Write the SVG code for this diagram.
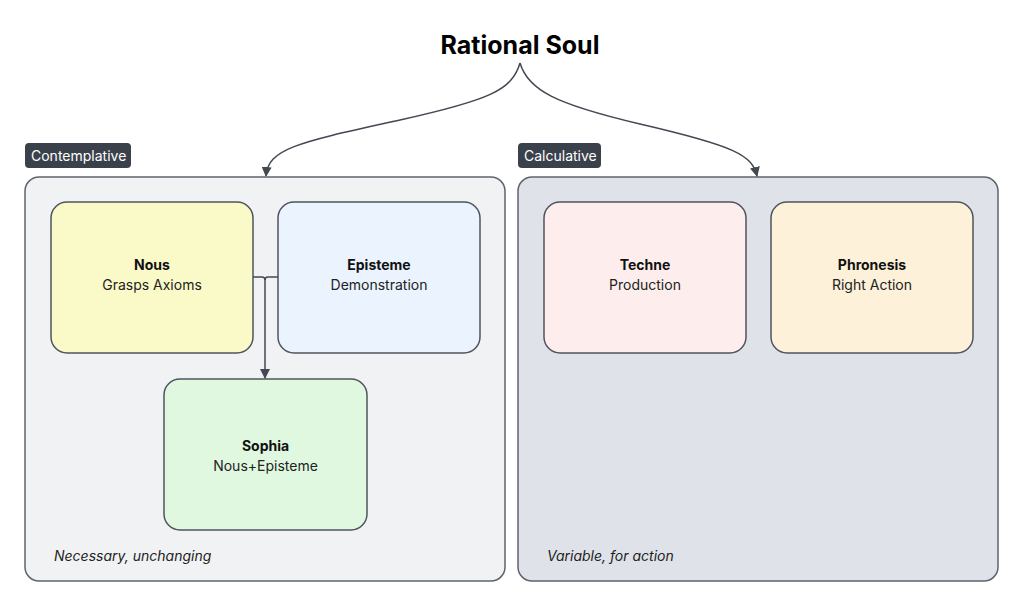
<svg xmlns="http://www.w3.org/2000/svg" width="1024" height="607" viewBox="0 0 1024 607">
<style>
  text { font-family: Inter, "Liberation Sans", sans-serif; }
  .title { font-size: 25px; font-weight: 700; fill: #000; }
  .container { stroke: #5f646c; stroke-width: 1.5; }
  .tag { fill: #3b414b; }
  .tagtext { font-size: 14px; fill: #ffffff; }
  .node { stroke: #4f545c; stroke-width: 1.5; }
  .name { font-size: 14px; font-weight: 700; fill: #111; text-anchor: middle; }
  .sub { font-size: 14px; fill: #222; text-anchor: middle; }
  .note { font-size: 14px; font-style: italic; fill: #222; }
  .edge { fill: none; stroke: #434852; stroke-width: 1.5; }
</style>
<defs>
  <marker id="arrow" viewBox="0 0 10 10" refX="9" refY="5" markerWidth="10" markerHeight="10" markerUnits="userSpaceOnUse" orient="auto">
    <path d="M0,0 L10,5 L0,10 Z" fill="#434852"/>
  </marker>
</defs>
<rect width="1024" height="607" fill="#ffffff"/>

<g id="title">
  <text class="title" x="520" y="54" text-anchor="middle">Rational Soul</text>
</g>

<g id="contemplative">
  <rect class="container" x="25" y="177" width="480" height="404" rx="14" fill="#f1f2f4"/>
  <rect class="tag" x="25" y="143" width="106" height="25" rx="4"/>
  <text class="tagtext" x="31" y="161">Contemplative</text>
  <text class="note" x="54" y="561">Necessary, unchanging</text>
</g>

<g id="calculative">
  <rect class="container" x="518" y="177" width="480" height="404" rx="14" fill="#dfe2e8"/>
  <rect class="tag" x="518" y="143" width="83" height="25" rx="4"/>
  <text class="tagtext" x="524" y="161">Calculative</text>
  <text class="note" x="547" y="561">Variable, for action</text>
</g>

<g id="nous">
  <rect class="node" x="51" y="202" width="202" height="151" rx="16" fill="#fafac9"/>
  <text class="name" x="152" y="270">Nous</text>
  <text class="sub" x="152" y="290">Grasps Axioms</text>
</g>

<g id="episteme">
  <rect class="node" x="278" y="202" width="202" height="151" rx="16" fill="#eaf3fe"/>
  <text class="name" x="379" y="270">Episteme</text>
  <text class="sub" x="379" y="290">Demonstration</text>
</g>

<g id="sophia">
  <rect class="node" x="164" y="379" width="203" height="151" rx="16" fill="#e0f8e0"/>
  <text class="name" x="265.5" y="451">Sophia</text>
  <text class="sub" x="265.5" y="471">Nous+Episteme</text>
</g>

<g id="techne">
  <rect class="node" x="544" y="202" width="202" height="151" rx="16" fill="#fdeeed"/>
  <text class="name" x="645" y="270">Techne</text>
  <text class="sub" x="645" y="290">Production</text>
</g>

<g id="phronesis">
  <rect class="node" x="771" y="202" width="202" height="151" rx="16" fill="#fdf1d9"/>
  <text class="name" x="872" y="270">Phronesis</text>
  <text class="sub" x="872" y="290">Right Action</text>
</g>

<g id="connectors">
  <path class="edge" d="M520,63 C512,90 490,100 400,120 C300,142 268,148 266,176" marker-end="url(#arrow)"/>
  <path class="edge" d="M520,63 C528,90 555,104 640,124 C735,146 752,155 757,176" marker-end="url(#arrow)"/>
  <path class="edge" d="M253,277 L262,277 Q265,277 265,280 L265,378" marker-end="url(#arrow)"/>
  <path class="edge" d="M278,277 L268,277 Q265,277 265,280"/>
</g>
</svg>
